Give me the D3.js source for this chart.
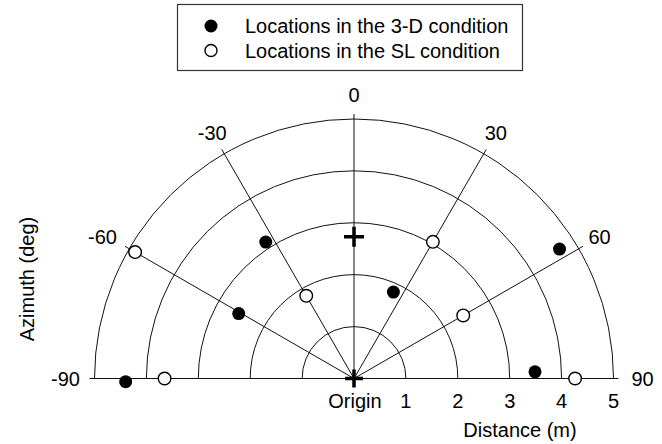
<!DOCTYPE html>
<html>
<head>
<meta charset="utf-8">
<script src="https://cdn.jsdelivr.net/npm/d3@7"></script>
<style>
  body { margin: 0; background: #fff; }
  svg text { font-family: "Liberation Sans", Arial, sans-serif; fill: #000; font-size: 20px; }
</style>
</head>
<body>
<div id="chart"></div>
<script>
// azimuth (deg) and distance (m) of each location
const azimuthTicks = [-90, -60, -30, 0, 30, 60, 90];
const distanceTicks = [1, 2, 3, 4, 5];
const az3D = [-90.8, -60.6, -32.9, 24.5, 57.8, 87.9];
const dist3D = [4.40, 2.55, 3.13, 1.83, 4.68, 3.49];
const azSL = [-90, -60, -30, 30, 60, 90];
const distSL = [3.65, 4.87, 1.84, 3.04, 2.43, 4.26];
const listenerAz = [0];
const listenerDist = [2.73];
const legendLabels = ["Locations in the 3-D condition", "Locations in the SL condition"];

const width = 662, height = 444;
const cx = 354, cy = 378.5;

const svg = d3.select("#chart").append("svg")
    .attr("width", width)
    .attr("height", height);

const r = d3.scaleLinear().domain([0, 5]).range([0, 259.5]);
const ang = d3.scaleLinear().domain([-90, 90]).range([-Math.PI / 2, Math.PI / 2]);

function px(az, d) { return cx + r(d) * Math.sin(ang(az)); }
function py(az, d) { return cy - r(d) * Math.cos(ang(az)); }

const g = svg.append("g");

// rings
g.selectAll(".ring")
    .data(distanceTicks)
    .enter().append("path")
    .attr("class", "ring")
    .attr("d", d => {
        const p = d3.path();
        p.moveTo(cx - r(d), cy);
        p.arc(cx, cy, r(d), Math.PI, 2 * Math.PI);
        return p.toString();
    })
    .attr("fill", "none")
    .attr("stroke", "#111")
    .attr("stroke-width", 1);

// spokes
const spokeEnd = r.invert(r(5) + 5);
g.selectAll(".spoke")
    .data(azimuthTicks)
    .enter().append("line")
    .attr("class", "spoke")
    .attr("x1", cx).attr("y1", cy)
    .attr("x2", d => px(d, spokeEnd))
    .attr("y2", d => py(d, spokeEnd))
    .attr("stroke", "#111")
    .attr("stroke-width", 1);

// azimuth labels
const labelR = d => r.invert(r(5) + (Math.abs(d) === 90 ? 29 : 24));
g.selectAll(".azlabel")
    .data(azimuthTicks)
    .enter().append("text")
    .attr("class", "azlabel")
    .attr("x", d => px(d, labelR(d)) - (d === -60 ? 6 : 0))
    .attr("y", d => py(d, labelR(d)))
    .attr("dy", "0.35em")
    .attr("text-anchor", "middle")
    .text(d => d);

// distance labels
g.selectAll(".dlabel")
    .data(distanceTicks)
    .enter().append("text")
    .attr("class", "dlabel")
    .attr("x", d => px(90, d))
    .attr("y", cy + 22)
    .attr("dy", "0.35em")
    .attr("text-anchor", "middle")
    .text(d => d);

g.append("text")
    .attr("x", cx + 1)
    .attr("y", cy + 22)
    .attr("dy", "0.35em")
    .attr("text-anchor", "middle")
    .text("Origin");

g.append("text")
    .attr("x", 520)
    .attr("y", 430)
    .attr("dy", "0.35em")
    .attr("text-anchor", "middle")
    .text("Distance (m)");

g.append("text")
    .attr("transform", "translate(27,279) rotate(-90)")
    .attr("dy", "0.35em")
    .attr("text-anchor", "middle")
    .text("Azimuth (deg)");

// crosses: origin and listener
g.append("path")
    .attr("d", "M-9,0H9M0,-9V9")
    .attr("transform", `translate(${cx},${cy})`)
    .attr("stroke", "#000")
    .attr("stroke-width", 3.5);

g.selectAll(".listener")
    .data(listenerAz)
    .enter().append("path")
    .attr("class", "listener")
    .attr("d", "M-10,0H10M0,-10V10")
    .attr("transform", (d, i) => `translate(${px(d, listenerDist[i])},${py(d, listenerDist[i])})`)
    .attr("stroke", "#000")
    .attr("stroke-width", 3.5);

// points
g.selectAll(".pt3d")
    .data(az3D)
    .enter().append("circle")
    .attr("class", "pt3d")
    .attr("cx", (d, i) => px(d, dist3D[i]))
    .attr("cy", (d, i) => py(d, dist3D[i]))
    .attr("r", 6.5)
    .attr("fill", "#000");

g.selectAll(".ptsl")
    .data(azSL)
    .enter().append("circle")
    .attr("class", "ptsl")
    .attr("cx", (d, i) => px(d, distSL[i]))
    .attr("cy", (d, i) => py(d, distSL[i]))
    .attr("r", 6.3)
    .attr("fill", "#fff")
    .attr("stroke", "#000")
    .attr("stroke-width", 1.4);

// legend
const legend = svg.append("g");
legend.append("rect")
    .attr("x", 177.5).attr("y", 4.5)
    .attr("width", 345).attr("height", 66)
    .attr("fill", "none")
    .attr("stroke", "#333")
    .attr("stroke-width", 1.2);

const items = legend.selectAll(".item")
    .data(legendLabels)
    .enter().append("g")
    .attr("class", "item")
    .attr("transform", (d, i) => `translate(211,${26 + i * 24.5})`);

items.append("circle")
    .attr("r", (d, i) => i === 0 ? 6.5 : 6)
    .attr("fill", (d, i) => i === 0 ? "#000" : "#fff")
    .attr("stroke", "#000")
    .attr("stroke-width", (d, i) => i === 0 ? 0 : 1.4);

items.append("text")
    .attr("x", 34)
    .attr("dy", "0.35em")
    .text(d => d);
</script>
</body>
</html>
